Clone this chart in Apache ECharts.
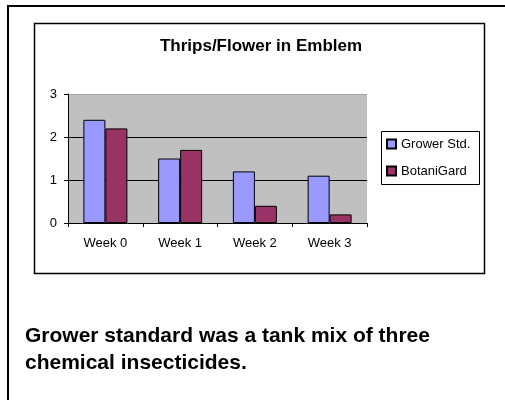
<!DOCTYPE html>
<html><head><meta charset="utf-8">
<script src="https://cdn.jsdelivr.net/npm/echarts@6/dist/echarts.min.js"></script>
<style>html,body{margin:0;padding:0;background:#fff}#c{width:505px;height:400px}</style>
</head><body><div id="c"></div>
<script>
var categories = ['Week 0', 'Week 1', 'Week 2', 'Week 3'];
var growerStd = [2.4, 1.5, 1.2, 1.1];
var botaniGard = [2.2, 1.7, 0.4, 0.2];
var yTicks = [0, 1, 2, 3];
var seriesNames = ['Grower Std.', 'BotaniGard'];
var titleText = 'Thrips/Flower in Emblem';
var noteLines = ['Grower standard was a tank mix of three', 'chemical insecticides.'];

var font = 'Arial, "Liberation Sans", sans-serif';
var chart = echarts.init(document.getElementById('c'), null, {renderer: 'canvas'});
chart.setOption({
  backgroundColor: '#fff',
  animation: false,
  legend: {
    orient: 'vertical', left: 386, top: 137, padding: 0, itemWidth: 9, itemHeight: 9, itemGap: 13,
    icon: 'rect',
    textStyle: {fontFamily: font, fontSize: 13, color: '#000', lineHeight: 14},
    data: seriesNames
  },
  grid: {left: 68, right: 138, top: 94, bottom: 177, show: true, backgroundColor: '#c0c0c0', borderWidth: 0},
  xAxis: {
    type: 'category', data: categories,
    axisLine: {lineStyle: {color: '#000', width: 1}},
    axisTick: {show: true, length: 4, lineStyle: {color: '#000'}},
    axisLabel: {margin: 14, fontFamily: font, fontSize: 13, color: '#000'}
  },
  yAxis: {
    type: 'value', min: yTicks[0], max: yTicks[yTicks.length - 1], interval: 1,
    axisLine: {show: true, lineStyle: {color: '#000', width: 1}},
    axisTick: {show: true, length: 4, lineStyle: {color: '#000'}},
    axisLabel: {margin: 11, fontFamily: font, fontSize: 13, color: '#000'},
    splitLine: {show: true, lineStyle: {color: ['#000', '#000', '#000', '#a8a8a8'], width: 1}}
  },
  series: [
    {name: seriesNames[0], type: 'bar', data: growerStd, barWidth: 22, barGap: '0%',
     itemStyle: {color: '#9999ff', borderColor: '#000', borderWidth: 1}},
    {name: seriesNames[1], type: 'bar', data: botaniGard, barWidth: 22, barGap: '0%',
     itemStyle: {color: '#993366', borderColor: '#000', borderWidth: 1}}
  ],
  graphic: [
    {type: 'line', shape: {x1: 7, y1: 6, x2: 505, y2: 6}, style: {stroke: '#000', lineWidth: 2}},
    {type: 'line', shape: {x1: 8, y1: 5, x2: 8, y2: 400}, style: {stroke: '#000', lineWidth: 2}},
    {type: 'rect', shape: {x: 34.5, y: 23.5, width: 450, height: 250}, style: {fill: null, stroke: '#000', lineWidth: 1.5}},
    {type: 'rect', shape: {x: 381.5, y: 131.5, width: 98, height: 53}, style: {fill: null, stroke: '#000', lineWidth: 1}},
    {type: 'text', x: 261, y: 46, style: {text: titleText, font: 'bold 17px ' + font, fill: '#000', align: 'center', verticalAlign: 'middle'}},
    {type: 'text', x: 25, y: 323, style: {text: noteLines.join('\n'), font: 'bold 21px ' + font, fill: '#000', lineHeight: 27, verticalAlign: 'top'}}
  ]
});
</script></body></html>
